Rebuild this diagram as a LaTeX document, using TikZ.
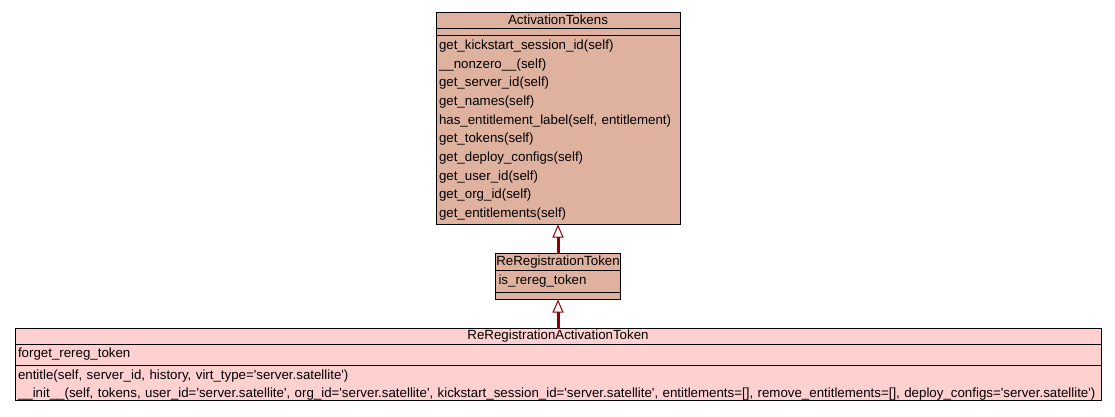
\documentclass[tikz,border=0pt]{standalone}
\usepackage{fontspec}
\setmainfont{Liberation Sans}[Ligatures=TeXOff]
\usetikzlibrary{arrows.meta,positioning}
\definecolor{tokenfill}{RGB}{223,178,160}
\definecolor{leaffill}{RGB}{255,208,208}
\definecolor{inheritred}{RGB}{139,0,0}

\begin{document}
\begin{tikzpicture}[
  x=1pt, y=1pt,
  node distance=29pt,
  classbox/.style={rectangle, draw, line width=0.8pt, inner sep=0pt, outer sep=0pt, font=\fontsize{13.3}{18.67}\selectfont},
  head/.style={classbox, minimum height=16pt},
  blank/.style={classbox, minimum height=7.5pt},
  members/.style={classbox, align=left, inner xsep=3pt},
  inherit/.style={-{Triangle[fill=white, line width=1pt, length=13pt, width=11pt]}, line width=3pt, draw=inheritred},
]
  \useasboundingbox (0,0) rectangle (1115,-416);

  \node[head, fill=tokenfill, minimum width=244pt] (acthead) at (558,-20) {ActivationTokens};
  \node[blank, fill=tokenfill, minimum width=244pt, below=0pt of acthead] (actattr) {};
  \node[members, fill=tokenfill, text width=238pt, minimum height=189pt, below=0pt of actattr] (actmeth) {get\_kickstart\_session\_id(self)\\ \_\_nonzero\_\_(self)\\ get\_server\_id(self)\\ get\_names(self)\\ has\_entitlement\_label(self, entitlement)\\ get\_tokens(self)\\ get\_deploy\_configs(self)\\ get\_user\_id(self)\\ get\_org\_id(self)\\ get\_entitlements(self)};

  \node[head, fill=tokenfill, minimum width=125pt, minimum height=17pt, below=of actmeth] (rrhead) {ReRegistrationToken};
  \node[members, fill=tokenfill, text width=119pt, minimum height=21.5pt, below=0pt of rrhead] (rrattr) {is\_rereg\_token};
  \node[blank, fill=tokenfill, minimum width=125pt, below=0pt of rrattr] (rrmeth) {};

  \node[head, fill=leaffill, minimum width=1086pt, minimum height=15.5pt, below=of rrmeth] (rrahead) {ReRegistrationActivationToken};
  \node[members, fill=leaffill, text width=1080pt, minimum height=21pt, below=0pt of rrahead] (rraattr) {forget\_rereg\_token};
  \node[members, fill=leaffill, text width=1080pt, minimum height=35pt, font=\fontsize{13.3}{18}\selectfont, below=0pt of rraattr] (rrameth) {\rule{0pt}{14.5pt}entitle(self, server\_id, history, virt\_type='server.satellite')\\ \_\_init\_\_(self, tokens, user\_id='server.satellite', org\_id='server.satellite', kickstart\_session\_id='server.satellite', entitlements=[], remove\_entitlements=[], deploy\_configs='server.satellite')};

  \draw[inherit] (rrhead.north) -- (actmeth.south);
  \draw[inherit] (rrahead.north) -- (rrmeth.south);
\end{tikzpicture}
\end{document}
